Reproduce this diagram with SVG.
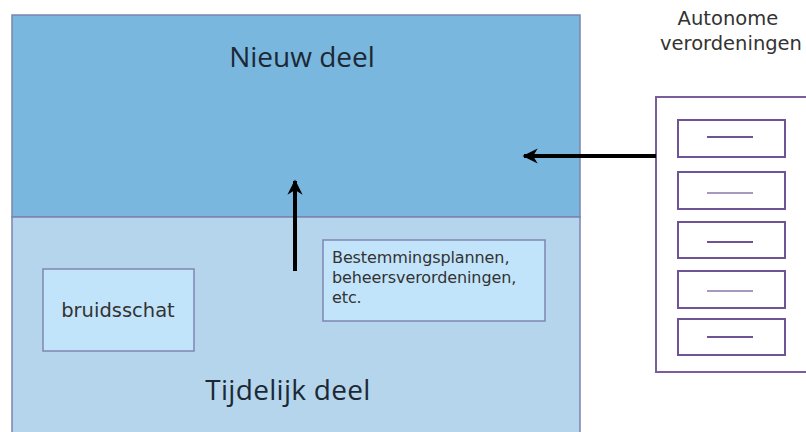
<svg xmlns="http://www.w3.org/2000/svg" width="806" height="432" viewBox="0 0 806 432">
  <style>
    .title { font-family: "Open Sans", "Liberation Sans", sans-serif; font-size: 28px; fill: #1c2935; text-anchor: middle; }
    .label { font-family: "DejaVu Sans", Verdana, sans-serif; fill: #333333; }
    .box { fill: #c2e4fa; stroke: #7f86b0; stroke-width: 1.5; }
    .drawer { fill: #ffffff; stroke: #6e5494; stroke-width: 2; }
    .handle { stroke: #6e5494; stroke-width: 2; }
    .conn { stroke: #000000; stroke-width: 4; fill: none; }
  </style>
  <defs>
    <marker id="head" viewBox="0 0 10 10" refX="9" refY="5" markerWidth="3.8" markerHeight="3.8" orient="auto" markerUnits="strokeWidth">
      <path d="M0,0 L10,5 L0,10 L3,5 Z" fill="#000000"/>
    </marker>
  </defs>

  <rect width="806" height="432" fill="#ffffff"/>

  <!-- upper area: new part -->
  <g id="nieuw-deel">
    <rect x="12" y="15" width="568" height="202" fill="#79b7de" stroke="#7c84b0" stroke-width="1.5"/>
    <text class="title" x="302" y="67">Nieuw deel</text>
  </g>

  <!-- lower area: temporary part -->
  <g id="tijdelijk-deel">
    <rect x="12" y="217" width="568" height="230" fill="#b4d5ec" stroke="#7c84b0" stroke-width="1.5"/>
    <text class="title" x="288" y="400" font-size="30.5" letter-spacing="0.3">Tijdelijk deel</text>
  </g>

  <g id="bruidsschat">
    <rect class="box" x="43" y="269" width="151" height="82"/>
    <text class="label" x="118" y="317" font-size="19.5" text-anchor="middle">bruidsschat</text>
  </g>

  <g id="bestemmingsplannen">
    <rect class="box" x="323" y="240" width="222" height="81"/>
    <text class="label" font-size="16" letter-spacing="-0.1">
      <tspan x="332" y="263">Bestemmingsplannen,</tspan>
      <tspan x="332" y="283">beheersverordeningen,</tspan>
      <tspan x="332" y="303">etc.</tspan>
    </text>
  </g>

  <!-- filing cabinet with independent regulations -->
  <g id="autonome-verordeningen">
    <text class="label" font-size="19.5" text-anchor="middle">
      <tspan x="731" y="25">Autonome</tspan>
      <tspan x="731" y="50">verordeningen</tspan>
    </text>
    <rect x="656" y="97" width="152" height="275" fill="#ffffff" stroke="#7a5e9c" stroke-width="2"/>
    <rect class="drawer" x="678" y="120" width="107" height="37"/>
    <line class="handle" x1="707" y1="137" x2="753" y2="137"/>
    <rect class="drawer" x="678" y="172" width="107" height="37"/>
    <line class="handle" x1="707" y1="193" x2="753" y2="193" stroke-opacity="0.6"/>
    <rect class="drawer" x="678" y="222" width="107" height="36"/>
    <line class="handle" x1="707" y1="242" x2="753" y2="242"/>
    <rect class="drawer" x="678" y="271" width="107" height="37"/>
    <line class="handle" x1="707" y1="291" x2="753" y2="291" stroke-opacity="0.6"/>
    <rect class="drawer" x="678" y="319" width="107" height="36"/>
    <line class="handle" x1="707" y1="337" x2="753" y2="337"/>
  </g>

  <g id="connectors">
    <line class="conn" x1="656" y1="156" x2="524" y2="156" marker-end="url(#head)"/>
    <line class="conn" x1="295" y1="271" x2="295" y2="181" marker-end="url(#head)"/>
  </g>
</svg>
